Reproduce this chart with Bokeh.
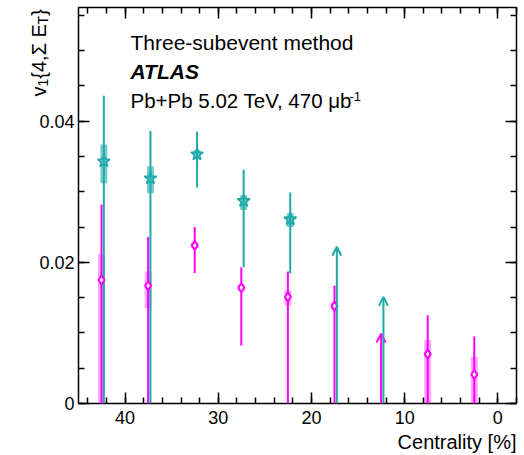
import math
from bokeh.plotting import figure
from bokeh.layouts import row
from bokeh.models import (Range1d, FixedTicker, CustomJSTickFormatter, LinearAxis,
                          Label, Arrow, OpenHead, ColumnDataSource, Title)
from bokeh.embed import file_html
from bokeh.resources import INLINE

# ---------------- data ----------------
# cyan stars
cyan_cent = [42.5, 37.5, 32.5, 27.5, 22.5]
cyan_val = [0.0343, 0.0319, 0.0353, 0.0287, 0.0261]
cyan_stat_lo = [0.0, 0.0, 0.0306, 0.0193, 0.0184]
cyan_stat_hi = [0.0436, 0.0386, 0.0385, 0.0331, 0.0299]
cyan_sys_lo = [0.0312, 0.0298, 0.0348, 0.0274, 0.0250]
cyan_sys_hi = [0.0367, 0.0336, 0.0359, 0.0295, 0.0270]
cyan_lim_cent = [17.5, 12.5]
cyan_lim_val = [0.0222, 0.0151]

# magenta diamonds
mag_cent = [42.5, 37.5, 32.5, 27.5, 22.5, 17.5, 7.5, 2.5]
mag_val = [0.0175, 0.0167, 0.0224, 0.0164, 0.0151, 0.0138, 0.0070, 0.0041]
mag_stat_lo = [0.0, 0.0, 0.0185, 0.0082, 0.0, 0.0, 0.0, 0.0]
mag_stat_hi = [0.0282, 0.0236, 0.0250, 0.0193, 0.0187, 0.0167, 0.0125, 0.0095]
mag_sys_lo = [0.0, 0.0135, 0.0220, 0.0159, 0.0139, 0.0133, 0.0, 0.0]
mag_sys_hi = [0.0212, 0.0187, 0.0228, 0.0169, 0.0160, 0.0143, 0.0090, 0.0066]
mag_lim_cent = [12.5]
mag_lim_val = [0.0099]

x_ticks = [0, 10, 20, 30, 40]
y_ticks = [0, 0.02, 0.04]

# ---------------- style / layout ----------------
W, H = 524, 455
FL, FR, FT, FB = 78, 516, 7, 403          # frame edges (px)
XMIN, XMAX = 45.0, -2.0
YMIN, YMAX = 0.0, 0.0561
CYAN = "#1eaaaa"
MAG = "#ff00ff"
FONT = "Liberation Sans"


def sx2x(sx):
    return XMIN + (sx - FL) / (FR - FL) * (XMAX - XMIN)


def sy2y(sy):
    return YMIN + (FB - sy) / (FB - FT) * (YMAX - YMIN)


p = figure(width=W, height=H, output_backend="svg", toolbar_location=None,
           x_range=Range1d(XMIN, XMAX), y_range=Range1d(YMIN, YMAX),
           x_axis_location=None, y_axis_location=None,
           min_border_left=FL, min_border_right=W - FR,
           min_border_top=FT, min_border_bottom=H - FB)
p.frame_width = FR - FL
p.frame_height = FB - FT
p.xgrid.visible = False
p.ygrid.visible = False
p.outline_line_color = "black"
p.outline_line_width = 1.5
p.background_fill_color = "white"
p.border_fill_color = "white"

xt = FixedTicker(ticks=x_ticks, minor_ticks=[float(v) for v in range(-2, 46, 2)])
yt = FixedTicker(ticks=y_ticks, minor_ticks=[0.005 * i for i in range(12)])
fmt_y = CustomJSTickFormatter(code="return tick == 0 ? '0' : tick.toFixed(2);")
fmt_x = CustomJSTickFormatter(code="return tick.toFixed(0);")
blank = CustomJSTickFormatter(code="return '';")


def style_axis(ax, show):
    ax.axis_line_color = None
    ax.major_tick_in = 11
    ax.major_tick_out = 0
    ax.minor_tick_in = 6
    ax.minor_tick_out = 0
    ax.major_tick_line_width = 1.5
    ax.minor_tick_line_width = 1.5
    ax.major_tick_line_color = "black"
    ax.minor_tick_line_color = "black"
    ax.major_label_text_font = FONT
    ax.major_label_text_font_size = "18px" if show else "0px"
    ax.major_label_text_color = "black"
    if not show:
        ax.major_label_standoff = 0


ax_b = LinearAxis(ticker=xt, formatter=fmt_x)
style_axis(ax_b, True)
ax_b.major_label_standoff = 7
ax_t = LinearAxis(ticker=xt, formatter=blank)
style_axis(ax_t, False)
ax_l = LinearAxis(ticker=yt, formatter=fmt_y)
style_axis(ax_l, True)
ax_l.major_label_standoff = 4
ax_r = LinearAxis(ticker=yt, formatter=blank)
style_axis(ax_r, False)
p.add_layout(ax_b, "below")
p.add_layout(ax_t, "above")
p.add_layout(ax_l, "left")
p.add_layout(ax_r, "right")

# x-axis title, right-aligned below the axis
p.add_layout(Title(text="Centrality [%]", align="right", text_font=FONT,
                   text_font_size="20px", text_font_style="normal",
                   text_color="black", standoff=4, offset=0), "below")

# ---------------- data glyphs ----------------
CYAN_DX = -0.22
MAG_DX = 0.03
BOX_W = 0.75

cx = [c + CYAN_DX for c in cyan_cent]
mx = [c + MAG_DX for c in mag_cent]

p.vbar(x=mx, width=BOX_W, bottom=mag_sys_lo, top=mag_sys_hi,
       fill_color=MAG, fill_alpha=0.35, line_color=None)
p.vbar(x=cx, width=BOX_W, bottom=cyan_sys_lo, top=cyan_sys_hi,
       fill_color=CYAN, fill_alpha=0.6, line_color=None)

p.segment(x0=mx, x1=mx, y0=mag_stat_lo, y1=mag_stat_hi, line_color=MAG, line_width=2)
p.segment(x0=cx, x1=cx, y0=cyan_stat_lo, y1=cyan_stat_hi, line_color=CYAN, line_width=2)

mlx = [c + MAG_DX for c in mag_lim_cent]
clx = [c + CYAN_DX for c in cyan_lim_cent]
msrc = ColumnDataSource(dict(x=mlx, y0=[0.0] * len(mlx), y1=mag_lim_val))
csrc = ColumnDataSource(dict(x=clx, y0=[0.0] * len(clx), y1=cyan_lim_val))
p.add_layout(Arrow(source=msrc, x_start="x", y_start="y0", x_end="x", y_end="y1",
                   line_color=MAG, line_width=2,
                   end=OpenHead(size=9, line_color=MAG, line_width=2)))
p.add_layout(Arrow(source=csrc, x_start="x", y_start="y0", x_end="x", y_end="y1",
                   line_color=CYAN, line_width=2,
                   end=OpenHead(size=9, line_color=CYAN, line_width=2)))

p.scatter(x=mx, y=mag_val, marker="diamond", size=9, fill_color="white",
          line_color=MAG, line_width=2)
p.scatter(x=cx, y=cyan_val, marker="star", size=13, fill_color=None,
          line_color=CYAN, line_width=1.8)


def add_label(fig, x, y, text, size, style="normal", align="left", angle=0.0):
    fig.add_layout(Label(x=x, y=y, text=text, text_font=FONT,
                         text_font_size=size, text_font_style=style,
                         text_align=align, text_baseline="alphabetic",
                         text_color="black", angle=angle))


add_label(p, sx2x(130), sy2y(42), "Three-subevent method", "21px")
add_label(p, sx2x(130), sy2y(71), "ATLAS", "21px", style="bold italic")
add_label(p, sx2x(130), sy2y(100), "Pb+Pb 5.02 TeV, 470 \u03bcb", "20.5px")
add_label(p, sx2x(349), sy2y(96), "-1", "13px")

# ---------------- transparent overlay for the y title (page pixels) ----------------
q = figure(width=W, height=H, output_backend="svg", toolbar_location=None,
           x_range=Range1d(0, W), y_range=Range1d(H - FB, H - FT),
           x_axis_location=None, y_axis_location=None,
           min_border_left=0, min_border_right=0,
           min_border_top=FT, min_border_bottom=H - FB)
q.frame_width = W
q.frame_height = FB - FT
q.xgrid.visible = False
q.ygrid.visible = False
q.outline_line_color = None
q.background_fill_color = None
q.border_fill_color = None
q.margin = (0, 0, 0, -W)

A = math.pi / 2
BX = 38      # baseline of the rotated title
SX = 42      # baseline of its subscripts
add_label(q, BX, H - 96, "v", "20px", angle=A)
add_label(q, SX, H - 86, "1", "14px", angle=A)
add_label(q, BX, H - 78.2, "{4,\u03a3 E", "20px", angle=A)
add_label(q, SX, H - 23.9, "T", "14px", angle=A)
add_label(q, BX, H - 15.3, "}", "20px", angle=A)

layout = row(p, q, spacing=0)
open("out.html", "w").write(file_html(layout, INLINE))
